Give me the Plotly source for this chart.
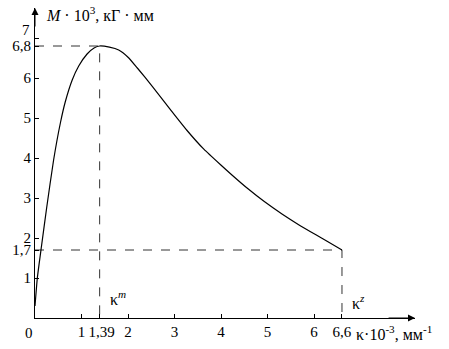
import plotly.graph_objects as go

# Curve data
kappa = [0.0, 0.05, 0.14, 0.25, 0.40, 0.55, 0.65, 0.80, 0.94, 1.12, 1.27, 1.39, 1.6, 1.8, 2.0, 2.2, 2.53, 2.89, 3.26, 3.63, 3.99, 4.24, 4.58, 4.93, 5.31, 5.66, 6.04, 6.28, 6.6]
moment = [0.3, 1.0, 1.8, 2.75, 3.95, 4.9, 5.4, 5.95, 6.3, 6.6, 6.75, 6.8, 6.77, 6.7, 6.52, 6.25, 5.78, 5.24, 4.70, 4.22, 3.83, 3.57, 3.23, 2.91, 2.6, 2.34, 2.08, 1.92, 1.7]

# Marked points
k_m, M_max = 1.39, 6.8
k_z, M_z = 6.6, 1.7

x_tickvals = [1, 1.39, 2, 3, 4, 5, 6, 6.6]
x_ticktext = ["1", "\u00a01,39", "2", "3", "4", "5", "6", "6,6"]
y_tickvals = [1, 1.7, 2, 3, 4, 5, 6, 6.8, 7]
y_ticktext = ["1", "1,7", "2", "3", "4", "5", "6", "6,8", ""]

XMAX, YMAX = 8.17, 7.75
FONT = "Liberation Serif"

fig = go.Figure()
dash = dict(color="#333", width=1, dash="dash")
fig.add_trace(go.Scatter(x=[0, k_m, k_m], y=[M_max, M_max, 0], mode="lines", line=dash, hoverinfo="skip"))
fig.add_trace(go.Scatter(x=[0, k_z, k_z], y=[M_z, M_z, 0], mode="lines", line=dash, hoverinfo="skip"))
fig.add_trace(go.Scatter(x=kappa, y=moment, mode="lines",
                         line=dict(color="black", width=1.2, shape="spline", smoothing=0.5)))

fig.update_layout(
    width=449, height=349,
    margin=dict(l=35, r=34, t=8, b=31),
    plot_bgcolor="white", paper_bgcolor="white",
    showlegend=False,
    font=dict(family=FONT, size=15, color="black"),
    xaxis=dict(range=[0, XMAX], showgrid=False, zeroline=False, showline=True, linecolor="black", linewidth=1,
               tickvals=x_tickvals, ticktext=x_ticktext, ticks="inside", ticklen=4, tickcolor="black",
               tickangle=0, automargin=False, tickfont=dict(family=FONT, size=15)),
    yaxis=dict(range=[0, YMAX], showgrid=False, zeroline=False, showline=True, linecolor="black", linewidth=1,
               tickvals=y_tickvals, ticktext=y_ticktext, ticks="inside", ticklen=4, tickcolor="black",
               automargin=False, tickfont=dict(family=FONT, size=15)),
)

# axis arrows
fig.add_annotation(x=XMAX, y=0, ax=XMAX - 0.6, ay=0, xref="x", yref="y", axref="x", ayref="y",
                   showarrow=True, arrowhead=2, arrowsize=1.4, arrowwidth=1, arrowcolor="black", text="")
fig.add_annotation(x=0, y=YMAX, ax=0, ay=YMAX - 0.5, xref="x", yref="y", axref="x", ayref="y",
                   showarrow=True, arrowhead=2, arrowsize=1.4, arrowwidth=1, arrowcolor="black", text="")

# texts
fig.add_annotation(x=0, y=7, xref="x", yref="y", xanchor="right", xshift=-3, yshift=8,
                   text="7", showarrow=False, font=dict(size=15))
fig.add_annotation(x=0, y=0, xref="x", yref="y", xshift=-6, yshift=-15, text="0", showarrow=False, font=dict(size=15))
fig.add_annotation(x=0.2, y=7.6, xref="x", yref="y", xanchor="left", showarrow=False,
                   text="<i>M</i> · 10<sup>3</sup>, кГ · мм", font=dict(size=16))
fig.add_annotation(x=6.85, y=0, xref="x", yref="y", xanchor="left", yshift=-15, showarrow=False,
                   text="κ·10<sup>-3</sup>, мм<sup>-1</sup>", font=dict(size=16))
fig.add_annotation(x=1.78, y=0.5, xref="x", yref="y", showarrow=False, text="κ<sup><i>m</i></sup>", font=dict(size=16))
fig.add_annotation(x=6.95, y=0.4, xref="x", yref="y", showarrow=False, text="κ<sup><i>z</i></sup>", font=dict(size=16))

fig.write_html("out.html", config={"displayModeBar": False},
               post_script="document.body.style.margin='0';")
